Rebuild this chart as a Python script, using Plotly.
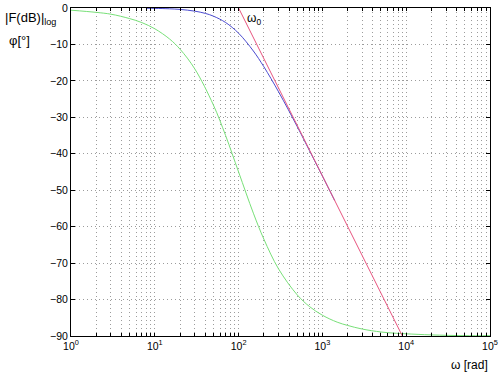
import plotly.graph_objects as go

# Phase curve (green)
w_phase = [1, 2, 3, 5, 7, 10, 15, 20, 30, 50, 70, 100, 150, 200, 300, 500, 700,
           1000, 1500, 2000, 3000, 5000, 7000, 10000, 20000, 50000, 100000]
phase = [-0.6, -1.2, -1.7, -2.9, -4.0, -5.7, -8.5, -11.3, -16.7, -26.6, -35.0, -45.0,
         -56.3, -63.4, -71.6, -78.7, -81.9, -84.3, -86.2, -87.1, -88.1, -88.9, -89.2,
         -89.4, -89.7, -89.9, -89.9]

# Magnitude curve (blue)
w_mag = [8, 10, 15, 20, 30, 40, 50, 70, 100, 150, 200, 300, 500, 700, 1000, 1400]
mag = [-0.06, -0.1, -0.22, -0.39, -0.86, -1.48, -2.23, -3.98, -6.92, -11.8, -16.1,
       -23.0, -32.5, -39.1, -46.1, -52.8]

# Asymptote (red)
w_asym = [100, 9000]
asym = [0, -90]

decades = [1, 10, 100, 1000, 10000, 100000]
decade_labels = ["10<sup>0</sup>", "10<sup>1</sup>", "10<sup>2</sup>",
                 "10<sup>3</sup>", "10<sup>4</sup>", "10<sup>5</sup>"]
y_ticks = [0, -10, -20, -30, -40, -50, -60, -70, -80, -90]

grid_vals = []
grid_text = []
for i, d in enumerate(decades):
    for m in range(1, 10):
        v = d * m
        if v > 100000:
            break
        grid_vals.append(v)
        grid_text.append(decade_labels[i] if m == 1 else "")

fig = go.Figure()
fig.add_trace(go.Scatter(x=w_phase, y=phase, mode="lines", line=dict(color="#78e078", width=1, shape="spline"), hoverinfo="skip"))
fig.add_trace(go.Scatter(x=w_mag, y=mag, mode="lines", line=dict(color="#4a4ad0", width=1, shape="spline"), hoverinfo="skip"))
fig.add_trace(go.Scatter(x=w_asym, y=asym, mode="lines", line=dict(color="#e8557f", width=1), hoverinfo="skip"))

fam = "Liberation Sans, Arial, sans-serif"
font = dict(family=fam, size=10.5, color="black")

fig.update_layout(
    width=500, height=375,
    margin=dict(l=71, r=10, t=8, b=39),
    paper_bgcolor="white", plot_bgcolor="white",
    showlegend=False,
    font=font,
    xaxis=dict(type="log", range=[0, 5], tickmode="array", tickvals=grid_vals, ticktext=grid_text,
               showgrid=True, gridcolor="#9c9c9c", griddash="1px,3px", gridwidth=1,
               showline=True, linecolor="black", linewidth=1, mirror="ticks",
               ticks="inside", ticklen=3, tickcolor="black", zeroline=False,
               tickfont=font, automargin=False),
    yaxis=dict(range=[-90, 0], tickmode="array", tickvals=y_ticks,
               showgrid=True, gridcolor="#9c9c9c", griddash="1px,3px", gridwidth=1,
               showline=True, linecolor="black", linewidth=1, mirror="ticks",
               ticks="inside", ticklen=4, tickcolor="black", zeroline=False,
               tickfont=font, automargin=False),
    annotations=[
        dict(text="|F(dB)|<sub>log</sub>", xref="paper", yref="paper", x=-0.162, y=1.0,
             xanchor="left", yanchor="top", showarrow=False,
             font=dict(family=fam, size=13)),
        dict(text="φ[°]", xref="paper", yref="paper", x=-0.152, y=0.93,
             xanchor="left", yanchor="top", showarrow=False,
             font=dict(family=fam, size=13)),
        dict(text="ω<sub>0</sub>", xref="paper", yref="paper", x=0.415, y=0.998,
             xanchor="left", yanchor="top", showarrow=False,
             font=dict(family=fam, size=12)),
        dict(text="ω [rad]", xref="paper", yref="paper", x=1.0, y=-0.088,
             xanchor="right", yanchor="middle", showarrow=False,
             font=dict(family=fam, size=12)),
    ],
)

fig.write_html("out.html", config={"displayModeBar": False},
               post_script="document.body.style.margin='0';document.body.style.overflow='hidden';")
